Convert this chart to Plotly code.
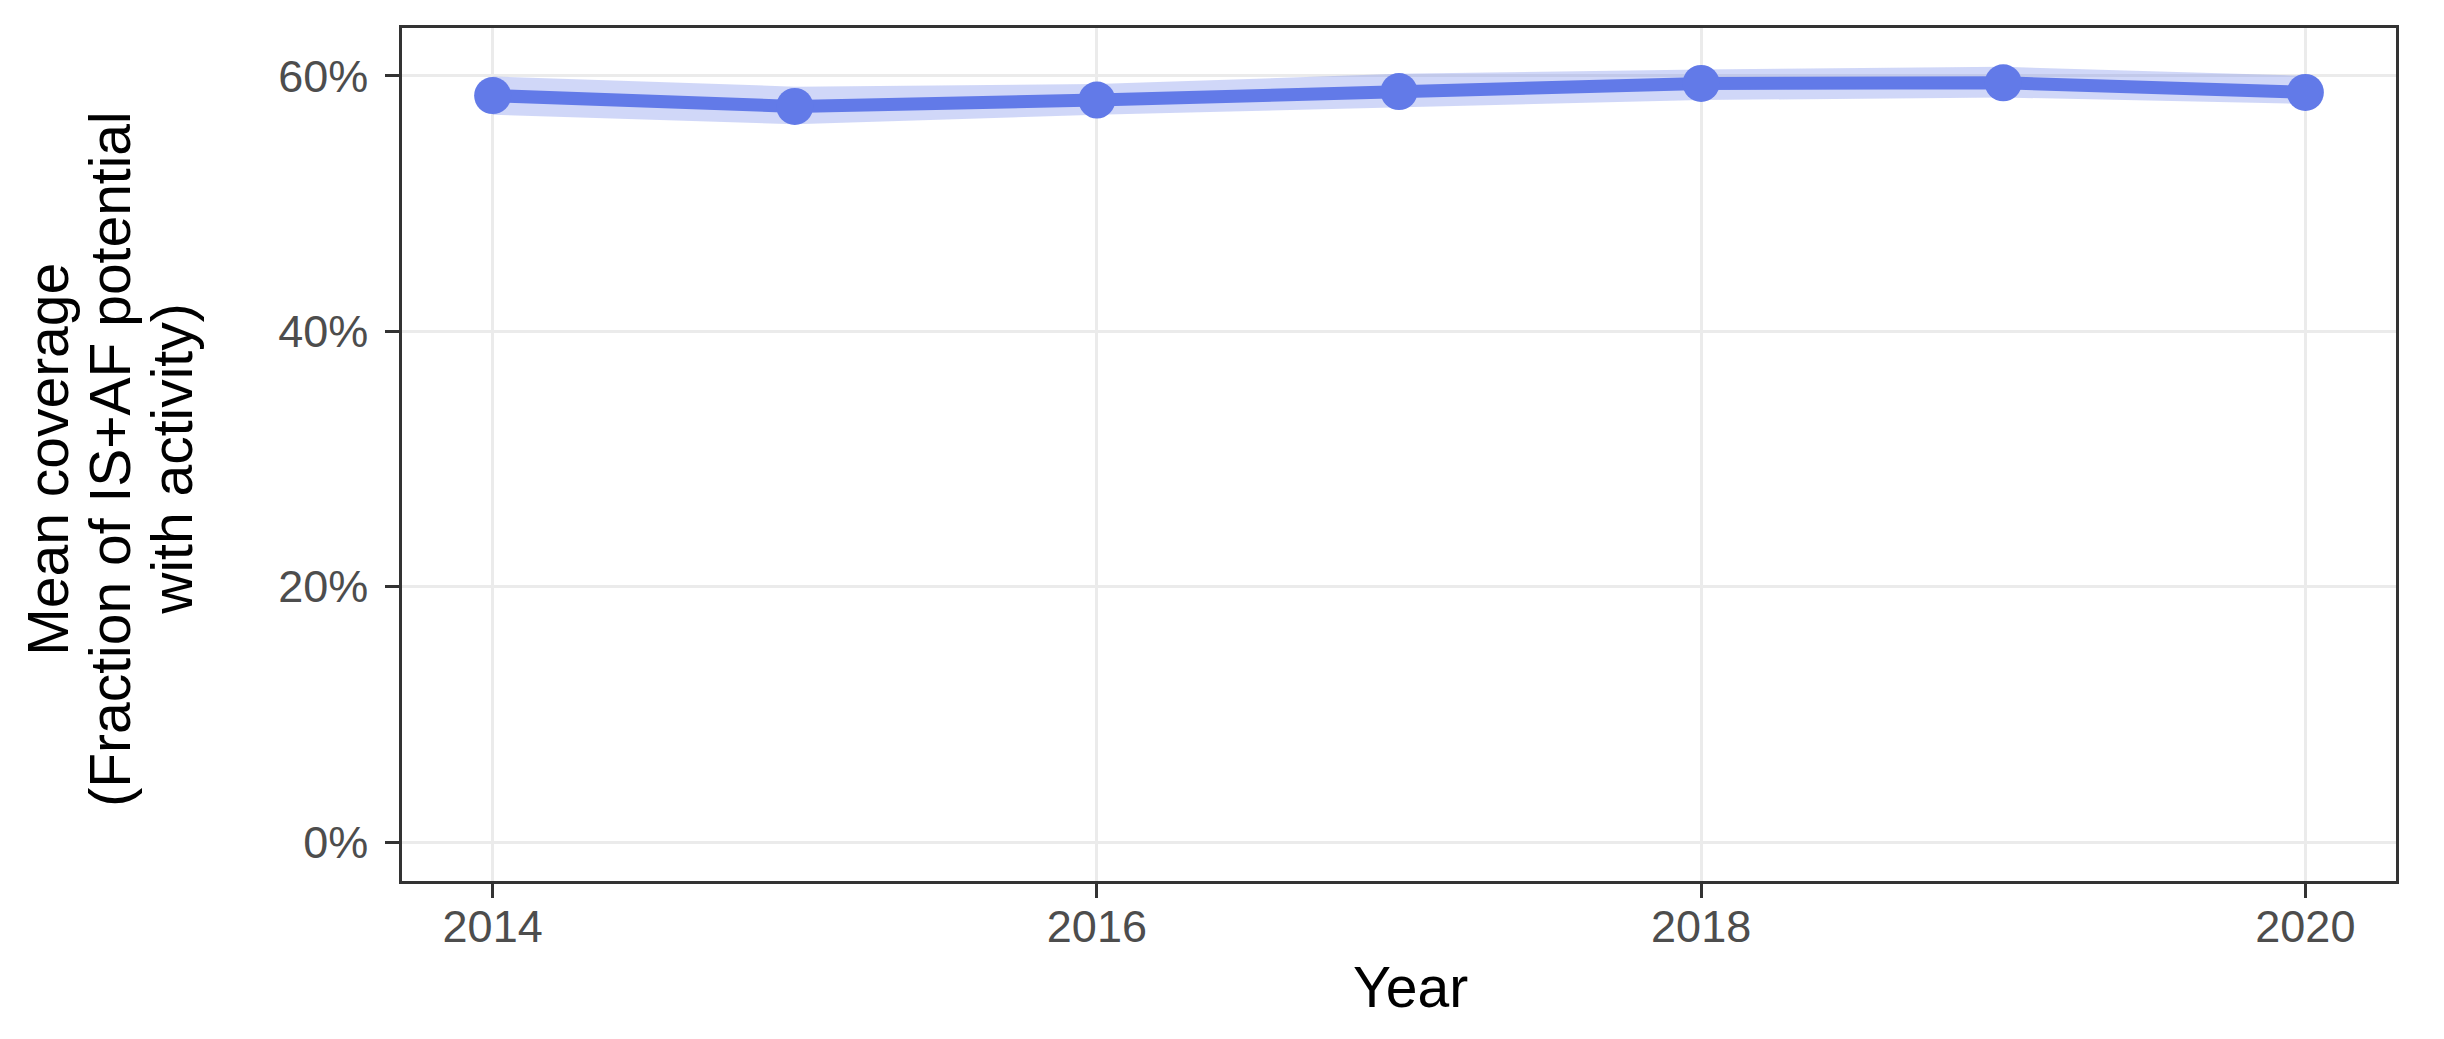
import plotly.graph_objects as go

# mean coverage per year (%), with ribbon bounds
years = [2014, 2015, 2016, 2017, 2018, 2019, 2020]
coverage = [58.45, 57.6, 58.1, 58.76, 59.4, 59.45, 58.7]
lower = [56.95, 56.2, 56.95, 57.5, 58.1, 58.3, 57.8]
upper = [59.95, 59.15, 59.35, 60.15, 60.5, 60.7, 60.0]

x_ticks = [2014, 2016, 2018, 2020]
y_ticks = [0, 20, 40, 60]

y_title_lines = ["Mean coverage", "(Fraction of IS+AF potential", "with activity)"]
x_title = "Year"

line_color = "#627AE8"
ribbon_color = "rgba(98,122,232,0.3)"
font_family = "Liberation Sans, Arial, sans-serif"

fig = go.Figure()

fig.add_trace(go.Scatter(
    x=years, y=lower,
    mode="lines",
    line=dict(width=0, color=ribbon_color),
    showlegend=False, hoverinfo="skip"
))
fig.add_trace(go.Scatter(
    x=years, y=upper,
    mode="lines",
    line=dict(width=0, color=ribbon_color),
    fill="tonexty", fillcolor=ribbon_color,
    showlegend=False, hoverinfo="skip"
))
fig.add_trace(go.Scatter(
    x=years, y=coverage,
    mode="lines+markers",
    line=dict(width=13, color=line_color),
    marker=dict(size=37, color=line_color),
    showlegend=False
))

axis_common = dict(
    showline=True, mirror=True, linecolor="#333333", linewidth=2.5,
    showgrid=True, gridcolor="#EBEBEB", gridwidth=3,
    ticks="outside", ticklen=14, tickwidth=3, tickcolor="#333333",
    tickfont=dict(family=font_family, size=45, color="#4D4D4D"),
    zeroline=False,
)

fig.update_xaxes(
    range=[2013.7, 2020.3],
    tickvals=x_ticks,
    ticktext=[str(v) for v in x_ticks],
    ticklabelstandoff=-10,
    **axis_common
)
fig.update_yaxes(
    range=[-3.04, 63.74],
    tickvals=y_ticks,
    ticktext=[f"{v}%" for v in y_ticks],
    ticklabelstandoff=8,
    **axis_common
)

# y title: three lines, tighter spacing than plotly's multi-line default
for txt, xpos in zip(y_title_lines, [-0.1775, -0.1464, -0.1153]):
    fig.add_annotation(
        text=txt,
        xref="paper", yref="paper",
        x=xpos, y=0.494, xanchor="center", yanchor="middle",
        textangle=-90, showarrow=False,
        font=dict(family=font_family, size=57, color="black")
    )

fig.add_annotation(
    text=x_title,
    xref="paper", yref="paper",
    x=0.506, y=-0.1237, xanchor="center", yanchor="middle",
    showarrow=False,
    font=dict(family=font_family, size=57, color="black")
)

# page body has an 8px margin, so shrink the figure to fit the window
fig.update_layout(
    width=2428, height=1023,
    margin=dict(l=394, r=40, t=20, b=150),
    plot_bgcolor="white", paper_bgcolor="white",
)

fig.write_html("out.html")
